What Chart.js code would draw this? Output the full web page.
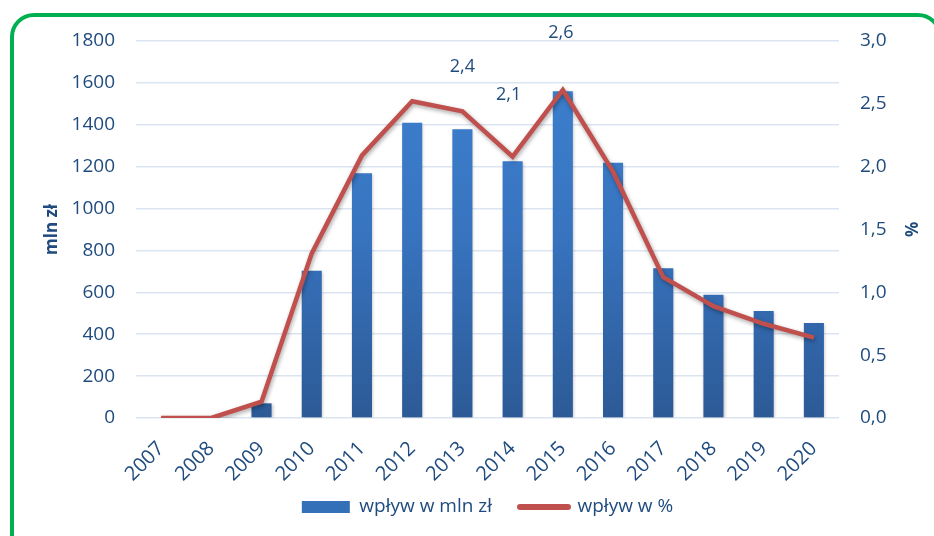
<!DOCTYPE html>
<html><head><meta charset="utf-8">
<script src="https://cdn.jsdelivr.net/npm/chart.js@4.4.0/dist/chart.umd.min.js"></script>
<style>
html,body{margin:0;padding:0;background:#fff;overflow:hidden;}
#wrap{position:relative;width:934px;height:536px;overflow:hidden;background:#fff;}
#frame{position:absolute;left:10px;top:13px;width:932px;height:600px;border:4.5px solid #00b050;border-radius:24px;box-sizing:border-box;}
canvas{position:absolute;left:0;top:0;}
</style></head><body>
<div id="wrap"><div id="frame"></div><canvas id="c" width="934" height="536"></canvas></div>
<script>
const years = ['2007','2008','2009','2010','2011','2012','2013','2014','2015','2016','2017','2018','2019','2020'];
const inflowMln = [0, 0, 70, 703, 1168, 1410, 1379, 1226, 1560, 1219, 715, 589, 511, 454];
const inflowPct = [0, 0, 0.13, 1.31, 2.09, 2.52, 2.44, 2.08, 2.61, 1.96, 1.12, 0.89, 0.75, 0.64];
const pctLabels = ['', '', '', '', '', '', '2,4', '2,1', '2,6', '', '', '', '', ''];
const leftTicks = [0, 200, 400, 600, 800, 1000, 1200, 1400, 1600, 1800];
const rightTicks = [0, 0.5, 1.0, 1.5, 2.0, 2.5, 3.0];
const seriesNames = ['wpływ w mln zł', 'wpływ w %'];

const TXT = '#1f4b7e';
const FONT = "'Open Sans', sans-serif";
Chart.defaults.font.family = FONT;
Chart.defaults.color = TXT;

const labelOffsets = {6: [0, -44], 7: [-4, -62], 8: [-2, -57]};
const LEGEND_FONT = 19, LEGEND_PAD = 28, LEGEND_CENTER_Y = 507;

const shadowPlugin = {
  id: 'shadow',
  beforeDatasetDraw(chart, args) {
    const ctx = chart.ctx;
    ctx.save();
    if (args.index === 1) {
      ctx.shadowColor = 'rgba(0,0,0,0.35)';
      ctx.shadowBlur = 4; ctx.shadowOffsetX = 1; ctx.shadowOffsetY = 2;
    } else {
      ctx.shadowColor = 'rgba(0,0,0,0.25)';
      ctx.shadowBlur = 3; ctx.shadowOffsetX = 1; ctx.shadowOffsetY = 1;
    }
  },
  afterDatasetDraw(chart) { chart.ctx.restore(); }
};

const legendShift = {
  id: 'legendShift',
  afterLayout(chart) {
    const lg = chart.legend;
    if (!lg) return;
    const top = LEGEND_CENTER_Y - LEGEND_PAD - LEGEND_FONT / 2;
    const h = lg.bottom - lg.top;
    lg.top = top; lg.bottom = top + h;
  }
};

const labelPlugin = {
  id: 'pctLabels',
  afterDatasetsDraw(chart) {
    const meta = chart.getDatasetMeta(1);
    const ctx = chart.ctx;
    ctx.save();
    ctx.font = "18px " + FONT;
    ctx.fillStyle = TXT;
    ctx.textAlign = 'center';
    ctx.textBaseline = 'middle';
    meta.data.forEach((pt, i) => {
      if (!pctLabels[i]) return;
      const off = labelOffsets[i] || [0, -20];
      ctx.fillText(pctLabels[i], pt.x + off[0], pt.y + off[1]);
    });
    ctx.restore();
  }
};

function barGradient(ctx) {
  const ca = ctx.chart.chartArea;
  if (!ca) return '#3470b8';
  const g = ctx.chart.ctx.createLinearGradient(0, ca.top, 0, ca.bottom);
  g.addColorStop(0, '#3d82d1');
  g.addColorStop(0.5, '#3874c0');
  g.addColorStop(1, '#2c5a96');
  return g;
}

new Chart(document.getElementById('c'), {
  data: {
    labels: years,
    datasets: [
      {
        type: 'bar', label: seriesNames[0], data: inflowMln, yAxisID: 'y',
        backgroundColor: barGradient, borderWidth: 0,
        categoryPercentage: 1.0, barPercentage: 0.4, order: 2
      },
      {
        type: 'line', label: seriesNames[1], data: inflowPct, yAxisID: 'y1',
        borderColor: '#c0504d', backgroundColor: '#c0504d', borderWidth: 4.5,
        pointRadius: 0, tension: 0, fill: false, order: 1
      }
    ]
  },
  options: {
    responsive: false,
    animation: false,
    layout: { padding: { top: 41, bottom: 0, left: 0, right: 0 } },
    scales: {
      x: {
        grid: { display: false, drawTicks: false },
        border: { display: false },
        ticks: { autoSkip: false, maxRotation: 45, minRotation: 45, padding: 19, font: { size: 20 }, color: TXT },
        afterFit(s) { s.height = 66; }
      },
      y: {
        position: 'left', min: 0, max: 1800,
        grid: { color: '#dbe5f1', lineWidth: 1.5, drawTicks: false },
        border: { display: false },
        ticks: { padding: 21, font: { size: 19 }, color: TXT, callback: v => String(v) },
        afterBuildTicks(s) { s.ticks = leftTicks.map(v => ({ value: v })); },
        title: { display: true, text: 'mln zł', font: { size: 17, weight: 'bold' }, color: TXT, padding: { top: 42, bottom: 0 } },
        afterFit(s) { s.width = 136; }
      },
      y1: {
        position: 'right', min: 0, max: 3,
        grid: { display: false, drawTicks: false },
        border: { display: false },
        ticks: { padding: 21, font: { size: 19 }, color: TXT, callback: v => Number(v).toFixed(1).replace('.', ',') },
        afterBuildTicks(s) { s.ticks = rightTicks.map(v => ({ value: v })); },
        title: { display: true, text: '%', font: { size: 17, weight: 'bold' }, color: TXT, padding: { top: 14, bottom: 0 } },
        afterFit(s) { s.width = 95; }
      }
    },
    plugins: {
      tooltip: { enabled: false },
      legend: {
        position: 'bottom',
        fullSize: false,
        maxHeight: 52,
        labels: {
          usePointStyle: true, pointStyleWidth: 48, boxHeight: 12, padding: LEGEND_PAD,
          font: { size: LEGEND_FONT }, color: TXT,
          sort: (a, b) => a.datasetIndex - b.datasetIndex,
          generateLabels(chart) {
            return [
              { text: seriesNames[0], datasetIndex: 0, fillStyle: '#3470b8', strokeStyle: '#3470b8', lineWidth: 0, pointStyle: 'rect', fontColor: TXT, hidden: false },
              { text: seriesNames[1], datasetIndex: 1, fillStyle: '#c0504d', strokeStyle: '#c0504d', lineWidth: 6, lineCap: 'round', pointStyle: 'line', fontColor: TXT, hidden: false }
            ];
          }
        }
      }
    }
  },
  plugins: [shadowPlugin, labelPlugin, legendShift]
});
</script>
</body></html>
